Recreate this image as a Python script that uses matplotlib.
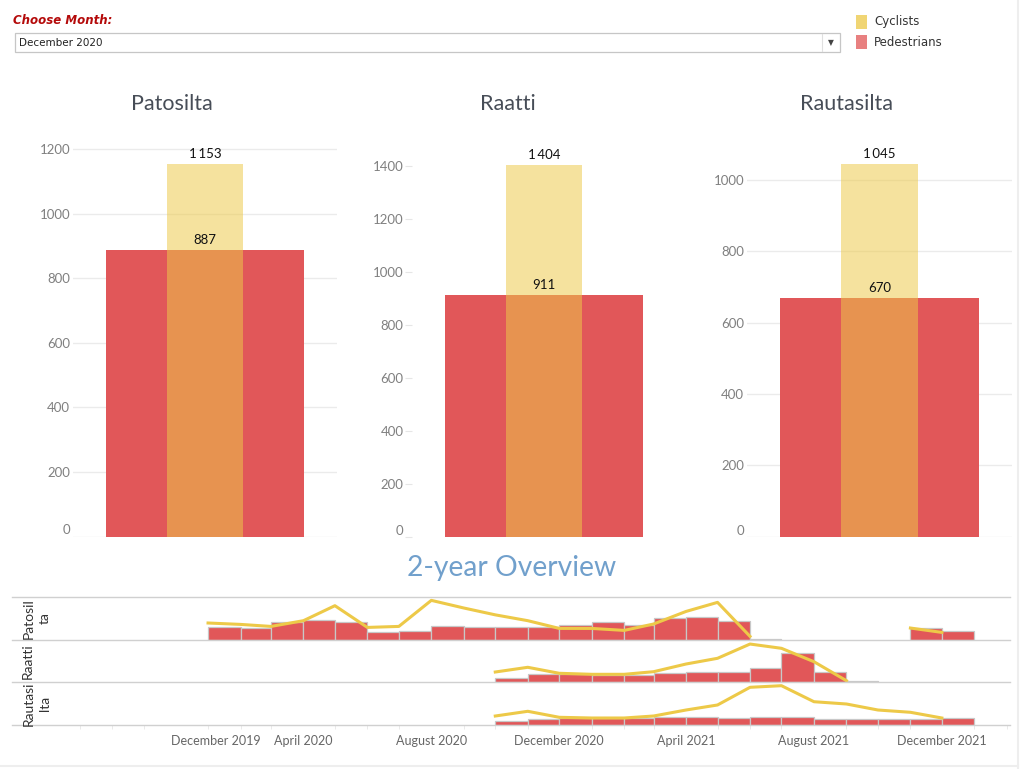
import numpy as np
import pandas as pd
import matplotlib
matplotlib.use("Agg")
import matplotlib.pyplot as plt
import matplotlib.dates as mdates
import matplotlib.transforms as mtransforms
from matplotlib.lines import Line2D
from matplotlib.patches import Rectangle

nan = np.nan

# monthly counts, Jan 2020 .. Dec 2021
months = pd.date_range("2020-01-01", "2021-12-01", freq="MS")
stations = ["Patosilta", "Raatti", "Rautasilta"]
selected_month = "December 2020"

patosilta_ped = [770, 730, 1040, 1160, 1040, 470, 530, 830, 745, 745, 745, 887,
                 1065, 890, 1300, 1360, 1125, 30, nan, nan, nan, nan, 685, 510]
patosilta_cyc = [1690, 1550, 1350, 1920, 3410, 1250, 1350, 3940, 3180, 2500, 1920, 1153,
                 1150, 955, 1590, 2840, 3740, 360, nan, nan, nan, nan, 1190, 755]
raatti_ped = [nan] * 9 + [490, 910, 911, 830, 760, 990, 1175, 1175, 1560, 3270, 1175, 80,
                          nan, nan, nan]
raatti_cyc = [nan] * 9 + [1610, 2370, 1404, 1240, 1240, 1660, 2900, 3820, 6120, 5430, 3270, 210,
                          nan, nan, nan]
rautasilta_ped = [nan] * 9 + [355, 545, 670, 670, 650, 735, 735, 640, 735, 735, 545, 545,
                              545, 575, 670]
rautasilta_cyc = [nan] * 9 + [1220, 1860, 1045, 950, 950, 1220, 2035, 2715, 5115, 5335, 3160,
                              2850, 2035, 1725, 950]

pedestrians = {"Patosilta": patosilta_ped, "Raatti": raatti_ped, "Rautasilta": rautasilta_ped}
cyclists = {"Patosilta": patosilta_cyc, "Raatti": raatti_cyc, "Rautasilta": rautasilta_cyc}

overview_ticks = ["2019-12-01", "2020-04-01", "2020-08-01", "2020-12-01",
                  "2021-04-01", "2021-08-01", "2021-12-01"]

RED = "#E15759"
YELLOW = "#EDC948"
FONT = ["Lato", "DejaVu Sans"]

W, H = 1025, 769
fig = plt.figure(figsize=(W / 100, H / 100), dpi=100)
fig.patch.set_facecolor("white")


def fx(x):
    return x / W


def fy(y):
    return 1 - y / H


def add_ax(l, t, r, b):
    return fig.add_axes([fx(l), fy(b), (r - l) / W, (b - t) / H])


def hline(x0, x1, y, color="#D0D0D0", lw=1.0):
    fig.add_artist(Line2D([fx(x0), fx(x1)], [fy(y), fy(y)], color=color, lw=lw))


def fmt_thousands(v):
    return f"{int(v):,}".replace(",", "\u2009")


# ---- header: month selector + legend
fig.text(fx(13), fy(20), "Choose Month:", color="#B40A0A", fontsize=8.5,
         fontweight="bold", style="italic",
         family=["Liberation Sans Narrow", "DejaVu Sans"], va="center")
fig.add_artist(Rectangle((fx(15), fy(52)), fx(825), (52 - 33) / H, transform=fig.transFigure,
                         facecolor="white", edgecolor="#C6C6C6", lw=0.9))
fig.add_artist(Line2D([fx(822), fx(822)], [fy(34), fy(51)], color="#E0E0E0", lw=0.8))
fig.text(fx(19), fy(43), selected_month, fontsize=7.5, color="#222222", va="center",
         family=["Liberation Sans Narrow", "DejaVu Sans"])
fig.text(fx(831), fy(43), "\u25BC", fontsize=5.5, color="#444444", va="center", ha="center",
         family="DejaVu Sans")

legend_items = [("Cyclists", "#F0D574", 22), ("Pedestrians", "#E88080", 42)]
for name, col, yc in legend_items:
    fig.add_artist(Rectangle((fx(856), fy(yc + 6.5)), fx(11), 13 / H,
                             transform=fig.transFigure, facecolor=col, edgecolor="none"))
    fig.text(fx(874), fy(yc), name, fontsize=8.5, color="#333333", va="center",
             family=["Liberation Sans Narrow", "DejaVu Sans"])

# ---- top bar panels for the selected month
sel = list(months.strftime("%B %Y")).index(selected_month)
panels = [
    # station, axes box (px), y max, title x, gridlines
    ("Patosilta", (73, 135, 337, 536.5), 1244, 172, True),
    ("Raatti", (412, 135, 676, 536.7), 1516, 508, False),
    ("Rautasilta", (747, 135, 1012, 536.7), 1126, 846, True),
]
for st, box, ymax, tx, grid in panels:
    ax = add_ax(*box)
    ped = pedestrians[st][sel]
    cyc = cyclists[st][sel]
    ax.bar([0], [ped], width=0.75, color=RED, zorder=2)
    ax.bar([0], [cyc], width=0.29, color=YELLOW, alpha=0.53, zorder=3, linewidth=0)
    for v in (cyc, ped):
        ax.annotate(fmt_thousands(v), (0, v), xytext=(0, 3), textcoords="offset points",
                    ha="center", va="bottom", fontsize=9.5, color="#111111",
                    family=FONT, zorder=5)
    ax.set_xlim(-0.5, 0.5)
    ax.set_ylim(0, ymax)
    ax.set_yticks(np.arange(0, ymax, 200))
    ax.set_xticks([])
    for s in ax.spines.values():
        s.set_visible(False)
    if grid:
        ax.yaxis.grid(True, color="#EBEBEB", lw=1.0, zorder=0)
        ax.tick_params(axis="y", length=0, pad=2)
    else:
        ax.tick_params(axis="y", length=5, width=0.8, color="#E6E6E6", pad=1)
    for lab in ax.get_yticklabels():
        lab.set_fontsize(9.5)
        lab.set_color("#808080")
        lab.set_family(FONT)
    ax.get_yticklabels()[0].set_verticalalignment("bottom")
    fig.text(fx(tx), fy(104), st, fontsize=15.5, color="#474D57", ha="center", va="center",
             family=FONT)

# ---- 2-year overview
fig.text(fx(512), fy(568), "2-year Overview", fontsize=20.3, color="#71A0CC",
         ha="center", va="center", family=FONT)

rows = [
    ("Patosilta", "Patosil\nta", 597, 640, 2540, 4274),
    ("Raatti", "Raatti", 640, 682, 4780, 6770),
    ("Rautasilta", "Rautasi\nlta", 682, 725, 4115, 5835),
]
xl = mdates.date2num(pd.Timestamp("2019-08-08"))
xr = mdates.date2num(pd.Timestamp("2022-02-04"))
xs = mdates.date2num(months)
widths = mdates.date2num(months + pd.offsets.MonthBegin(1)) - xs

hline(12, 1010, 597)
for i, (st, header, top, bot, bmax, lmax) in enumerate(rows):
    ax = add_ax(55, top, 1010, bot)
    ax.bar(xs, pedestrians[st], width=widths, align="edge", color=RED,
           edgecolor="#C8C8C8", linewidth=0.9, zorder=2)
    ax.set_ylim(0, bmax)
    ax.set_xlim(xl, xr)
    ax.set_yticks([])
    for s in ax.spines.values():
        s.set_visible(False)
    ax2 = ax.twinx()
    ax2.plot(xs, cyclists[st], color=YELLOW, lw=2.2, solid_joinstyle="round", zorder=3)
    ax2.set_ylim(0, lmax)
    ax2.set_yticks([])
    for s in ax2.spines.values():
        s.set_visible(False)
    hline(12, 1010, bot)
    hx = 36.5 if "\n" in header else 28
    fig.text(fx(hx), fy((top + bot) / 2), header, rotation=90, fontsize=10,
             color="#333333", ha="center", va="center", multialignment="center",
             family=FONT, linespacing=1.45)
    if i < len(rows) - 1:
        ax.set_xticks([])
    else:
        ticks = mdates.date2num(pd.to_datetime(overview_ticks))
        ax.set_xticks(ticks)
        ax.set_xticklabels(pd.to_datetime(overview_ticks).strftime("%B %Y"))
        ax.xaxis.set_minor_locator(mdates.MonthLocator())
        ax.tick_params(axis="x", which="major", length=0, pad=7)
        ax.tick_params(axis="x", which="minor", length=3, color="#E6E6E6")
        for lab in ax.get_xticklabels():
            lab.set_fontsize(9)
            lab.set_color("#666666")
            lab.set_family(FONT)
        first = ax.get_xticklabels()[0]
        first.set_horizontalalignment("left")
        first.set_transform(first.get_transform() +
                            mtransforms.ScaledTranslation(-5 / 100, 0, fig.dpi_scale_trans))

# light frame on the right and bottom edges
fig.add_artist(Line2D([fx(1018), fx(1018)], [0, 1], color="#EEEEEE", lw=1.5))
hline(0, 1018, 766, color="#EEEEEE", lw=1.5)

fig.savefig("out.png", dpi=100, facecolor="white")
